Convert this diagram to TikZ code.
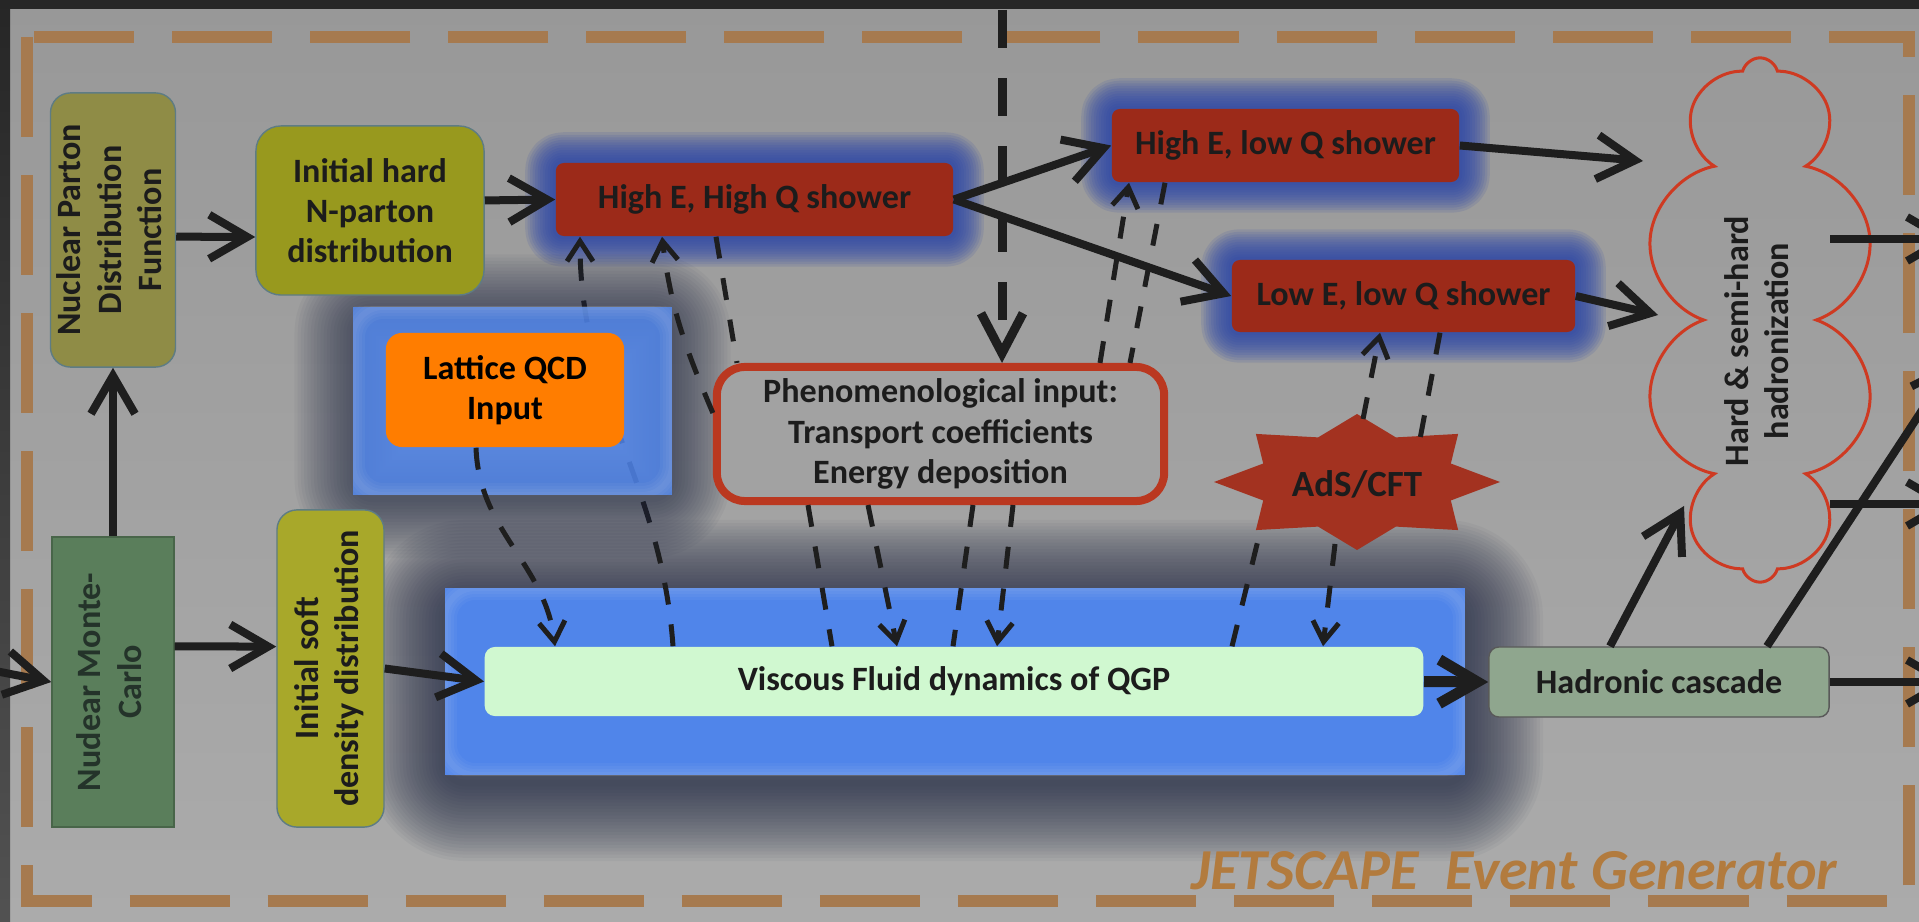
\documentclass[tikz,border=0pt]{standalone}
\usepackage{fontspec}
\setmainfont{Carlito}
\usepackage{graphicx}
\usetikzlibrary{arrows.meta,calc,shapes.symbols}

\definecolor{bgtop}{HTML}{989898}
\definecolor{bgbot}{HTML}{ABABAB}
\definecolor{frameor}{HTML}{A67A4F}
\definecolor{olivea}{HTML}{8F8C46}
\definecolor{oliveb}{HTML}{98991E}
\definecolor{olivec}{HTML}{A8A82A}
\definecolor{mcgreen}{HTML}{5A7E5B}
\definecolor{mctext}{HTML}{24332A}
\definecolor{showred}{HTML}{9C2A19}
\definecolor{glowblue}{HTML}{2A45AA}
\definecolor{panelblue}{HTML}{5085EA}
\definecolor{shadowc}{HTML}{1C2440}
\definecolor{latorange}{HTML}{FF7D00}
\definecolor{fluidgreen}{HTML}{D0F8D0}
\definecolor{cascgreen}{HTML}{8FA68E}
\definecolor{phenred}{HTML}{BA3820}
\definecolor{phenfill}{HTML}{A2A2A2}
\definecolor{cloudred}{HTML}{CE3A22}
\definecolor{adsred}{HTML}{A33220}
\definecolor{linec}{HTML}{1E1E1E}
\definecolor{textc}{HTML}{1C1C1C}
\definecolor{genc}{HTML}{B27B3E}
\definecolor{edgec}{HTML}{5E7C84}

\pgfdeclarelayer{back}
\pgfsetlayers{back,main}

\tikzset{
  every node/.style={font=\fontsize{9.7}{11.4}\selectfont\bfseries, text=textc, inner sep=0pt, align=center},
  box/.style={draw=edgec, line width=0.4pt, rounded corners=0.2cm},
  shower/.style={fill=showred, rounded corners=0.08cm},
  panel/.style={fill=panelblue},
  flow/.style={draw=linec, line width=0.08cm, -{Straight Barb[length=3.8mm,width=4.4mm]}},
  info/.style={draw=linec, line width=0.05cm, dash pattern=on 0.22cm off 0.2cm},
  infotip/.style={info, -{Straight Barb[length=2mm,width=2.6mm]}},
  bigdash/.style={draw=linec, line width=0.09cm, dash pattern=on 0.38cm off 0.3cm, -{Straight Barb[length=4mm,width=4.2mm]}}
}

\begin{document}
\begin{tikzpicture}[x=0.01cm,y=0.01cm]
\useasboundingbox (0,0) rectangle (1919,-922);
\clip (0,0) rectangle (1919,-922);

\node[box, fill=olivea, minimum width=1.25cm, minimum height=2.74cm] (npdf) at (113,-230)
  {\rotatebox{90}{\begin{tabular}{@{}c@{}}Nuclear Parton\\Distribution\\Function\end{tabular}}};
\node[fill=mcgreen, draw=mcgreen!80!black, line width=0.4pt, text=mctext, minimum width=1.22cm, minimum height=2.9cm] (nmc) at (113,-682)
  {\rotatebox{90}{\begin{tabular}{@{}c@{}}Nudear Monte-\\Carlo\end{tabular}}};
\node[box, fill=oliveb, rounded corners=0.25cm, minimum width=2.28cm, minimum height=1.69cm] (ihard) at (370,-210.5)
  {Initial hard\\N-parton\\distribution};
\node[box, fill=olivec, minimum width=1.07cm, minimum height=3.17cm] (isoft) at (330.5,-668.5)
  {\rotatebox{90}{\begin{tabular}{@{}c@{}}Initial soft\\density distribution\end{tabular}}};
\node[shower, minimum width=3.97cm, minimum height=0.73cm] (hh) at (754.5,-199.5) {High E, High Q shower};
\node[shower, minimum width=3.47cm, minimum height=0.73cm] (hl) at (1285.5,-145.5) {High E, low Q shower};
\node[shower, minimum width=3.43cm, minimum height=0.72cm] (ll) at (1403.5,-296) {Low E, low Q shower};
\node[draw=phenred, line width=0.08cm, fill=phenfill, rounded corners=0.28cm, minimum width=4.47cm, minimum height=1.34cm] (phen) at (940.5,-434)
  {Phenomenological input:\\Transport coefficients\\Energy deposition};
\node[fill=fluidgreen, rounded corners=0.1cm, minimum width=9.38cm, minimum height=0.69cm] (vf) at (954,-681.5) {Viscous Fluid dynamics of QGP};
\node[fill=cascgreen, draw=black!65, line width=0.4pt, rounded corners=0.1cm, minimum width=3.4cm, minimum height=0.7cm] (hc) at (1659,-682) {Hadronic cascade};
\node[cloud, cloud puffs=10, cloud ignores aspect, draw=cloudred, line width=0.03cm, minimum width=2.31cm, minimum height=5.24cm] (hyd) at (1760,-320)
  {\rotatebox{90}{\begin{tabular}{@{}c@{}}Hard \& semi-hard\\hadronization\end{tabular}\hspace{12pt}}};
\fill[adsred] plot[samples at={0,...,15}] ({1357+143*(1-0.29*mod(\x,2))*cos(22.5*\x)},{-482+68*(1-0.29*mod(\x,2))*sin(22.5*\x)}) -- cycle;
\node[font=\fontsize{10.5}{12}\selectfont\bfseries] (ads) at (1357,-484) {AdS/CFT};
\node[anchor=base east, text=genc, font=\fontsize{16.5}{19}\selectfont\bfseries\itshape] (gen) at (1838,-889) {JETSCAPE\ \ Event Generator};

\coordinate (inl) at (-20,-668);
\coordinate (topin) at (1002,-10);
\coordinate (out1) at (1953,-239);
\coordinate (out2) at (1953,-504);
\coordinate (out3) at (1953,-682);
\coordinate (out4) at (1955,-360);

\begin{pgfonlayer}{back}
\shade[top color=bgtop, bottom color=bgbot] (0,0) rectangle (1919,-922);
\shade[top color=black!85, bottom color=black!68] (0,0) rectangle (10,-922);
\fill[black!85] (0,0) rectangle (1919,-9);
\draw[frameor, line width=0.12cm, dash pattern=on 1cm off 0.38cm] (27,-37) rectangle (1909,-901);
\foreach \n in {hh,hl,ll}
  \foreach \i in {1,...,12}
    \draw[glowblue, opacity=0.13, line width=0.05cm*\i, rounded corners=0.08cm, line join=round] (\n.south west) rectangle (\n.north east);
\foreach \i in {1,...,24}
  \draw[shadowc, opacity=0.042, line width=0.065cm*\i, rounded corners=0.2cm, line join=round] (445,-598) rectangle (1465,-783);
\fill[panel] (445,-588) rectangle (1465,-775);
\begin{scope}
  \clip (445,-588) rectangle (1465,-775);
  \foreach \i in {1,...,4}
    \draw[white, opacity=0.04, line width=0.06cm*\i, rounded corners=0.3cm] (445,-588) rectangle (1465,-775);
\end{scope}
\draw[infotip] ($(vf.north)+(-281,0)$) to[out=94,in=-90] ($(hh.south)+(-174.5,0)$);
\foreach \i in {1,...,18}
  \draw[shadowc, opacity=0.045, line width=0.065cm*\i, rounded corners=0.2cm, line join=round] (353,-313) rectangle (672,-499);
\fill[panel, fill opacity=0.85] (353,-307) rectangle (672,-495);
\begin{scope}
  \clip (353,-307) rectangle (672,-495);
  \foreach \i in {1,...,4}
    \draw[white, opacity=0.04, line width=0.06cm*\i, rounded corners=0.3cm] (353,-307) rectangle (672,-495);
\end{scope}
\end{pgfonlayer}

\node[fill=latorange, rounded corners=0.16cm, text=black, minimum width=2.38cm, minimum height=1.14cm] (lat) at (505,-390) {Lattice QCD\\Input};

\draw[flow] (inl) -- (nmc.west);
\draw[flow] (nmc.north) -- (npdf.south);
\draw[flow] (npdf.-6) -- (ihard.193);
\draw[flow] (ihard.5) -- (hh.west);
\draw[flow] (hh.east) -- (hl.west);
\draw[flow] (hh.east) -- (ll.west);
\draw[flow] (hl.east) -- ($(hyd.center)+(-117,159)$);
\draw[flow] (ll.east) -- ($(hyd.center)+(-102,5)$);
\draw[flow] (nmc.30) -- (isoft.158);
\draw[flow] (isoft.east) -- (vf.west);
\draw[flow, line width=0.11cm] (vf.east) -- (hc.west);
\draw[flow] ($(hc.north)+(-49,0)$) -- ($(hyd.center)+(-76,-186)$);
\draw[flow] ($(hyd.center)+(70,81)$) -- (out1);
\draw[flow] ($(hyd.center)+(70,-184)$) -- (out2);
\draw[flow] (hc.east) -- (out3);
\draw[flow] ($(hc.north)+(108,0)$) -- (out4);

\draw[bigdash] (topin) -- ($(phen.north)+(61.5,0)$);
\draw[infotip] ($(lat.south)+(-29,0)$) to[out=-88,in=97] ($(vf.north)+(-399,0)$);
\draw[infotip] ($(phen.west)+(0,21)$) to[out=113,in=-83] ($(hh.south)+(-92.5,0)$);
\draw[info] ($(hh.south)+(-38.5,0)$) -- ($(phen.north)+(-203.5,0)$);
\draw[infotip] ($(phen.north)+(159.5,0)$) -- ($(hl.south)+(-156.5,0)$);
\draw[info] ($(hl.south)+(-120.5,0)$) -- ($(phen.north)+(189.5,0)$);
\draw[info] ($(phen.south)+(-132.5,0)$) -- ($(vf.north)+(-122,0)$);
\draw[infotip] ($(phen.south)+(-72.5,0)$) -- ($(vf.north)+(-57,0)$);
\draw[info] ($(phen.south)+(32.5,0)$) -- ($(vf.north)+(-1,0)$);
\draw[infotip] ($(phen.south)+(72.5,0)$) -- ($(vf.north)+(43,0)$);
\draw[infotip] ($(ads)+(6,65)$) -- ($(ll.south)+(-23.5,0)$);
\draw[info] ($(ll.south)+(36.5,0)$) -- ($(ads)+(63,45)$);
\draw[info] ($(vf.north)+(278,0)$) -- ($(ads)+(-97,-48)$);
\draw[infotip] ($(ads)+(-22,-60)$) -- ($(vf.north)+(369,0)$);
\end{tikzpicture}
\end{document}
